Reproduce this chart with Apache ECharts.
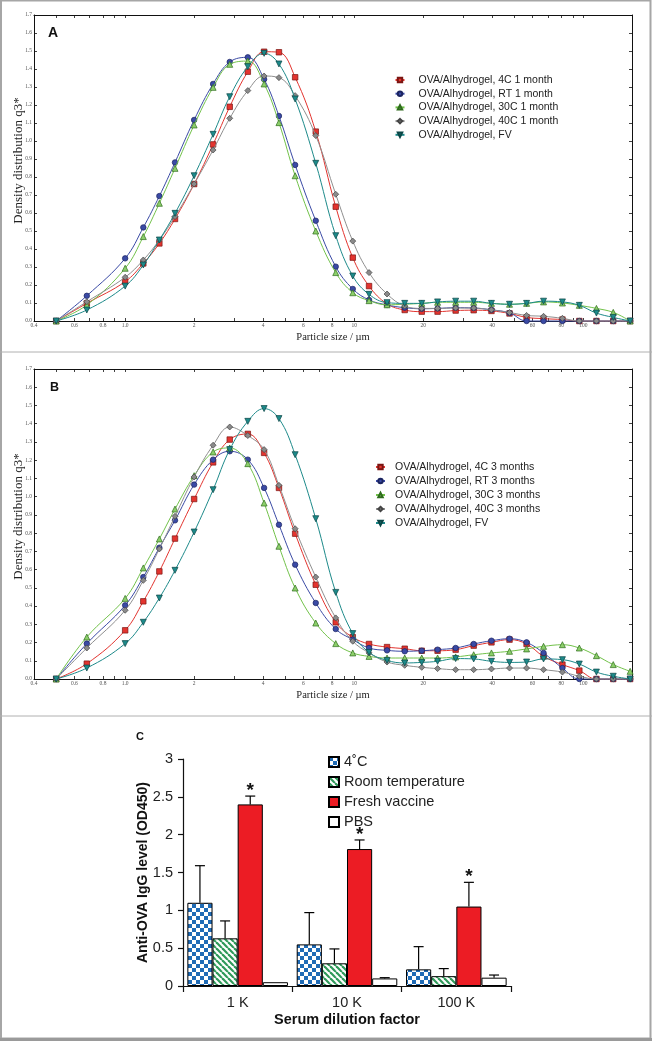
<!DOCTYPE html>
<html><head><meta charset="utf-8">
<script src="https://cdn.jsdelivr.net/npm/echarts@6/dist/echarts.min.js"></script>
<style>html,body{margin:0;padding:0;background:#fff;}#c{width:652px;height:1041px;}</style>
</head><body><div id="c"></div>
<script>
// ---------- DATA ----------
const sizes = [0.5, 0.68, 1.0, 1.2, 1.41, 1.65, 2.0, 2.42, 2.86, 3.43, 4.04, 4.69, 5.52, 6.79, 8.3, 9.85, 11.6, 13.9, 16.6, 19.7, 23.1, 27.7, 33.2, 39.7, 47.6, 56.5, 67, 81, 96, 114, 135, 160];

const namesA = ['OVA/Alhydrogel, 4C 1 month', 'OVA/Alhydrogel, RT 1 month', 'OVA/Alhydrogel, 30C 1 month', 'OVA/Alhydrogel, 40C 1 month', 'OVA/Alhydrogel, FV'];
const a4C  = [0, 0.098, 0.219, 0.32, 0.431, 0.567, 0.761, 0.981, 1.19, 1.385, 1.496, 1.493, 1.354, 1.052, 0.635, 0.352, 0.194, 0.095, 0.061, 0.052, 0.052, 0.058, 0.06, 0.056, 0.042, 0.02, 0.013, 0.008, 0, 0, 0, 0];
const aRT  = [0, 0.14, 0.348, 0.52, 0.694, 0.881, 1.117, 1.317, 1.439, 1.465, 1.343, 1.139, 0.867, 0.557, 0.302, 0.178, 0.117, 0.089, 0.074, 0.068, 0.07, 0.074, 0.072, 0.062, 0.045, 0, 0, 0, 0, 0, 0, 0];
const a30C = [0, 0.089, 0.293, 0.469, 0.654, 0.848, 1.089, 1.298, 1.426, 1.444, 1.317, 1.102, 0.807, 0.5, 0.269, 0.157, 0.113, 0.09, 0.093, 0.098, 0.104, 0.104, 0.104, 0.098, 0.093, 0.098, 0.106, 0.1, 0.087, 0.07, 0.048, 0];
const a40C = [0, 0.107, 0.243, 0.339, 0.45, 0.58, 0.761, 0.95, 1.126, 1.28, 1.361, 1.352, 1.252, 1.03, 0.704, 0.444, 0.269, 0.15, 0.083, 0.07, 0.07, 0.072, 0.072, 0.062, 0.047, 0.031, 0.026, 0.015, 0, 0, 0, 0];
const aFV  = [0, 0.061, 0.194, 0.311, 0.45, 0.598, 0.807, 1.037, 1.246, 1.413, 1.487, 1.428, 1.233, 0.876, 0.474, 0.25, 0.148, 0.102, 0.098, 0.098, 0.106, 0.11, 0.11, 0.098, 0.093, 0.098, 0.11, 0.106, 0.087, 0.044, 0.02, 0];

const namesB = ['OVA/Alhydrogel, 4C 3 months', 'OVA/Alhydrogel, RT 3 months', 'OVA/Alhydrogel, 30C 3 months', 'OVA/Alhydrogel, 40C 3 months', 'OVA/Alhydrogel, FV'];
const b4C  = [0, 0.084, 0.267, 0.426, 0.59, 0.77, 0.987, 1.188, 1.313, 1.344, 1.24, 1.048, 0.797, 0.517, 0.311, 0.229, 0.192, 0.175, 0.166, 0.155, 0.155, 0.161, 0.183, 0.201, 0.216, 0.192, 0.124, 0.079, 0.046, 0, 0, 0];
const bRT  = [0, 0.194, 0.404, 0.559, 0.72, 0.87, 1.066, 1.203, 1.249, 1.203, 1.048, 0.846, 0.627, 0.417, 0.274, 0.216, 0.17, 0.157, 0.152, 0.155, 0.161, 0.17, 0.192, 0.21, 0.221, 0.201, 0.143, 0.06, 0, 0, 0, 0];
const b30C = [0, 0.23, 0.442, 0.609, 0.768, 0.932, 1.115, 1.245, 1.267, 1.181, 0.965, 0.728, 0.499, 0.307, 0.194, 0.143, 0.124, 0.115, 0.115, 0.115, 0.115, 0.121, 0.133, 0.143, 0.152, 0.165, 0.179, 0.188, 0.17, 0.128, 0.079, 0.042];
const b40C = [0, 0.17, 0.377, 0.541, 0.713, 0.892, 1.108, 1.282, 1.382, 1.335, 1.258, 1.062, 0.824, 0.559, 0.335, 0.207, 0.143, 0.093, 0.075, 0.064, 0.057, 0.051, 0.051, 0.055, 0.06, 0.06, 0.051, 0.038, 0.015, 0, 0, 0];
const bFV  = [0, 0.06, 0.194, 0.311, 0.444, 0.596, 0.806, 1.038, 1.258, 1.413, 1.483, 1.428, 1.23, 0.879, 0.475, 0.249, 0.146, 0.102, 0.088, 0.091, 0.097, 0.112, 0.11, 0.097, 0.091, 0.093, 0.11, 0.106, 0.082, 0.038, 0.015, 0];

const xTickLabels = ['0.4', '0.6', '0.8', '1.0', '2', '4', '6', '8', '10', '20', '40', '60', '80', '100'];
const xTickMarks = [0.4, 0.5, 0.6, 0.7, 0.8, 0.9, 1, 2, 3, 4, 5, 6, 7, 8, 9, 10, 20, 30, 40, 50, 60, 70, 80, 90, 100];
const xRange = [0.4, 163];

const categories = ['1 K', '10 K', '100 K'];
const barNames = ['4˚C', 'Room temperature', 'Fresh vaccine', 'PBS'];
const c4C    = [1.10, 0.55, 0.22];
const c4CErr = [0.49, 0.42, 0.30];
const cRT    = [0.63, 0.30, 0.13];
const cRTErr = [0.23, 0.19, 0.10];
const cFresh    = [2.40, 1.81, 1.05];
const cFreshErr = [0.11, 0.12, 0.32];
const cPBS    = [0.05, 0.10, 0.11];
const cPBSErr = [0, 0.01, 0.035];
const significant = [false, false, true, false];

// ---------- STYLES ----------
const lineStyles = [
  {color: '#e3342f', border: '#7a1512', fill: '#e3342f', symbol: 'rect', rot: 0, size: 5.5},
  {color: '#3a4aa5', border: '#1b2460', fill: '#3a4aa5', symbol: 'circle', rot: 0, size: 5.5},
  {color: '#72c24a', border: '#2e6b1c', fill: '#8ccf6a', symbol: 'triangle', rot: 0, size: 6},
  {color: '#8f8f8f', border: '#444', fill: '#8a8a8a', symbol: 'diamond', rot: 0, size: 6},
  {color: '#1d8a8a', border: '#0b4545', fill: '#1d8a8a', symbol: 'triangle', rot: 180, size: 6}
];

function checker() {
  const c = document.createElement('canvas'); c.width = 8; c.height = 8;
  const g = c.getContext('2d');
  g.fillStyle = '#fff'; g.fillRect(0, 0, 8, 8);
  g.fillStyle = '#1f6bb6'; g.fillRect(0, 0, 4, 4); g.fillRect(4, 4, 4, 4);
  return {image: c, repeat: 'repeat'};
}
function stripes() {
  const s = 6;
  const c = document.createElement('canvas'); c.width = s; c.height = s;
  const g = c.getContext('2d');
  g.fillStyle = '#fff'; g.fillRect(0, 0, s, s);
  g.strokeStyle = '#2f9a5a'; g.lineWidth = 2.2;
  for (const k of [-s, 0, s]) { g.beginPath(); g.moveTo(k, 0); g.lineTo(k + s, s); g.stroke(); }
  return {image: c, repeat: 'repeat'};
}
const barFills = [checker(), stripes(), '#ec1c24', '#ffffff'];

// ---------- BUILD ----------
const lg = Math.log10;
const xTickLogs = xTickLabels.map(s => lg(Number(s)));
function xFmt(v) {
  const i = xTickLogs.findIndex(t => Math.abs(t - v) < 1e-6);
  return i >= 0 ? xTickLabels[i] : '';
}
const serif = 'Liberation Serif';
const sans = 'Liberation Sans';

function logX(gi, bottom) {
  return {
    type: 'value', gridIndex: gi, min: lg(xRange[0]), max: lg(xRange[1]),
    position: bottom ? 'bottom' : 'top',
    axisLine: {show: true, onZero: false, lineStyle: {color: '#111', width: 1}},
    axisTick: {show: true, inside: true, length: 3, customValues: xTickMarks.map(lg), lineStyle: {color: '#111', width: 0.8}},
    axisLabel: bottom ? {show: true, customValues: xTickLogs, formatter: xFmt, fontSize: 5.5, fontFamily: serif, color: '#555', margin: 2} : {show: false},
    splitLine: {show: false}, minorTick: {show: false},
    name: bottom ? 'Particle size / µm' : '', nameLocation: 'middle', nameGap: 11, nameMoveOverlap: false,
    nameTextStyle: {fontFamily: serif, fontSize: 10.5, color: '#222'}
  };
}
function valY(gi, left) {
  return {
    type: 'value', gridIndex: gi, min: 0, max: 1.7, interval: 0.1,
    position: left ? 'left' : 'right',
    axisLine: {show: true, onZero: false, lineStyle: {color: '#111', width: 1}},
    axisTick: {show: true, inside: true, length: 3, lineStyle: {color: '#111', width: 0.8}},
    axisLabel: left ? {show: true, formatter: v => v.toFixed(1), fontSize: 5.5, fontFamily: serif, color: '#555', margin: 2} : {show: false},
    splitLine: {show: false},
    name: left ? 'Density distribution q3*' : '', nameLocation: 'middle', nameGap: 9, nameMoveOverlap: false,
    nameTextStyle: {fontFamily: serif, fontSize: 13, color: '#222', padding: [0, 0, 0, 15]}
  };
}
function lineSeries(name, ys, k, xi, yi) {
  const st = lineStyles[k];
  return {
    type: 'line', name, xAxisIndex: xi, yAxisIndex: yi,
    data: sizes.map((x, i) => [lg(x), ys[i]]),
    smooth: 0.4, symbol: st.symbol, symbolRotate: st.rot, symbolSize: st.size,
    showAllSymbol: true, clip: false,
    lineStyle: {color: st.color, width: 1},
    itemStyle: {color: st.fill, borderColor: st.border, borderWidth: 0.7},
    emphasis: {disabled: true}, z: 3 + k
  };
}

const series = [];
[a4C, aRT, a30C, a40C, aFV].forEach((ys, k) => series.push(lineSeries(namesA[k], ys, k, 0, 0)));
[b4C, bRT, b30C, b40C, bFV].forEach((ys, k) => series.push(lineSeries(namesB[k], ys, k, 2, 2)));

const barVals = [c4C, cRT, cFresh, cPBS];
const barErrs = [c4CErr, cRTErr, cFreshErr, cPBSErr];
const barCatGap = 0.08;
barVals.forEach((vals, k) => {
  series.push({
    type: 'bar', name: barNames[k], xAxisIndex: 4, yAxisIndex: 4, data: vals,
    barGap: '0%', barCategoryGap: (barCatGap * 100) + '%',
    itemStyle: {color: barFills[k], borderColor: '#000', borderWidth: 1},
    emphasis: {disabled: true}
  });
});
const errData = [];
barVals.forEach((vals, k) => vals.forEach((v, i) => {
  if (barErrs[k][i] > 0) errData.push([i, v, barErrs[k][i], k, significant[k] ? 1 : 0]);
}));
series.push({
  type: 'custom', xAxisIndex: 4, yAxisIndex: 4, data: errData, z: 10, silent: true,
  renderItem(params, api) {
    const cat = api.value(0), v = api.value(1), e = api.value(2), k = api.value(3), star = api.value(4);
    const base = api.coord([cat, v]);
    const top = api.coord([cat, v + e]);
    const bw = api.size([1, 0])[0] * (1 - barCatGap) / 4;
    const x = base[0] + (k - 1.5) * bw;
    const ch = [
      {type: 'line', shape: {x1: x, y1: base[1], x2: x, y2: top[1]}, style: {stroke: '#000', lineWidth: 1.2}},
      {type: 'line', shape: {x1: x - 5, y1: top[1], x2: x + 5, y2: top[1]}, style: {stroke: '#000', lineWidth: 1.2}}
    ];
    if (star) ch.push({type: 'text', x: x, y: top[1] - 15, style: {text: '*', fontSize: 19, fontWeight: 'bold', fontFamily: sans, fill: '#111', align: 'center', verticalAlign: 'top'}});
    return {type: 'group', children: ch};
  }
});

const gridCommon = {containLabel: false, outerBoundsMode: 'none'};
const option = {
  animation: false,
  backgroundColor: '#fff',
  title: [
    {text: 'A', left: 43, top: 21, textStyle: {fontFamily: sans, fontWeight: 'bold', fontSize: 14, color: '#111'}},
    {text: 'B', left: 45, top: 376, textStyle: {fontFamily: sans, fontWeight: 'bold', fontSize: 12.5, color: '#111'}},
    {text: 'C', left: 131, top: 726, textStyle: {fontFamily: sans, fontWeight: 'bold', fontSize: 11, color: '#111'}}
  ],
  grid: [
    Object.assign({left: 34, top: 15, width: 598, height: 306}, gridCommon),
    Object.assign({left: 34, top: 369, width: 598, height: 310}, gridCommon),
    Object.assign({left: 183, top: 759, width: 328, height: 227}, gridCommon)
  ],
  xAxis: [
    logX(0, true), logX(0, false), logX(1, true), logX(1, false),
    {
      type: 'category', gridIndex: 2, data: categories,
      axisLine: {show: true, lineStyle: {color: '#111', width: 1.2}},
      axisTick: {show: true, inside: false, length: 6, alignWithLabel: false, lineStyle: {color: '#111', width: 1.2}},
      axisLabel: {fontFamily: sans, fontSize: 14.5, color: '#222', margin: 9},
      name: 'Serum dilution factor', nameLocation: 'middle', nameGap: 26, nameMoveOverlap: false,
      nameTextStyle: {fontFamily: sans, fontSize: 14.5, fontWeight: 'bold', color: '#111'}
    }
  ],
  yAxis: [
    valY(0, true), valY(0, false), valY(1, true), valY(1, false),
    {
      type: 'value', gridIndex: 2, min: 0, max: 3, interval: 0.5,
      axisLine: {show: true, lineStyle: {color: '#111', width: 1.2}},
      axisTick: {show: true, inside: false, length: 5, lineStyle: {color: '#111', width: 1.2}},
      axisLabel: {fontFamily: sans, fontSize: 14.5, color: '#222', margin: 10},
      splitLine: {show: false},
      name: 'Anti-OVA IgG level (OD450)', nameLocation: 'middle', nameGap: 33, nameMoveOverlap: false,
      nameTextStyle: {fontFamily: sans, fontSize: 14, fontWeight: 'bold', color: '#111'}
    }
  ],
  legend: [
    {data: namesA, orient: 'vertical', left: 389.5, top: 69, itemWidth: 9, itemHeight: 5.5, itemGap: 1.7,
     textStyle: {fontFamily: sans, fontSize: 10.5, color: '#222', lineHeight: 12, padding: [0, 0, 0, 9]}, selectedMode: false},
    {data: namesB, orient: 'vertical', left: 370, top: 456, itemWidth: 9, itemHeight: 5.5, itemGap: 2,
     textStyle: {fontFamily: sans, fontSize: 10.5, color: '#222', lineHeight: 12, padding: [0, 0, 0, 5]}, selectedMode: false},
    {data: barNames, orient: 'vertical', left: 323, top: 749, itemWidth: 10, itemHeight: 10, itemGap: 4, icon: 'rect',
     textStyle: {fontFamily: sans, fontSize: 14.5, color: '#222', lineHeight: 16}, selectedMode: false}
  ],
  graphic: [
    {type: 'rect', shape: {x: 1, y: 0.5, width: 649.5, height: 1038}, style: {fill: 'none', stroke: '#a6a6a6', lineWidth: 2}, silent: true},
    {type: 'rect', shape: {x: 0, y: 1038, width: 652, height: 3}, style: {fill: '#9a9a9a'}, silent: true},
    {type: 'line', shape: {x1: 0, y1: 352, x2: 652, y2: 352}, style: {stroke: '#b0b0b0', lineWidth: 1}, silent: true},
    {type: 'line', shape: {x1: 0, y1: 716, x2: 652, y2: 716}, style: {stroke: '#b0b0b0', lineWidth: 1}, silent: true}
  ],
  series
};
const chart = echarts.init(document.getElementById('c'), null, {renderer: 'canvas'});
chart.setOption(option);
</script></body></html>
